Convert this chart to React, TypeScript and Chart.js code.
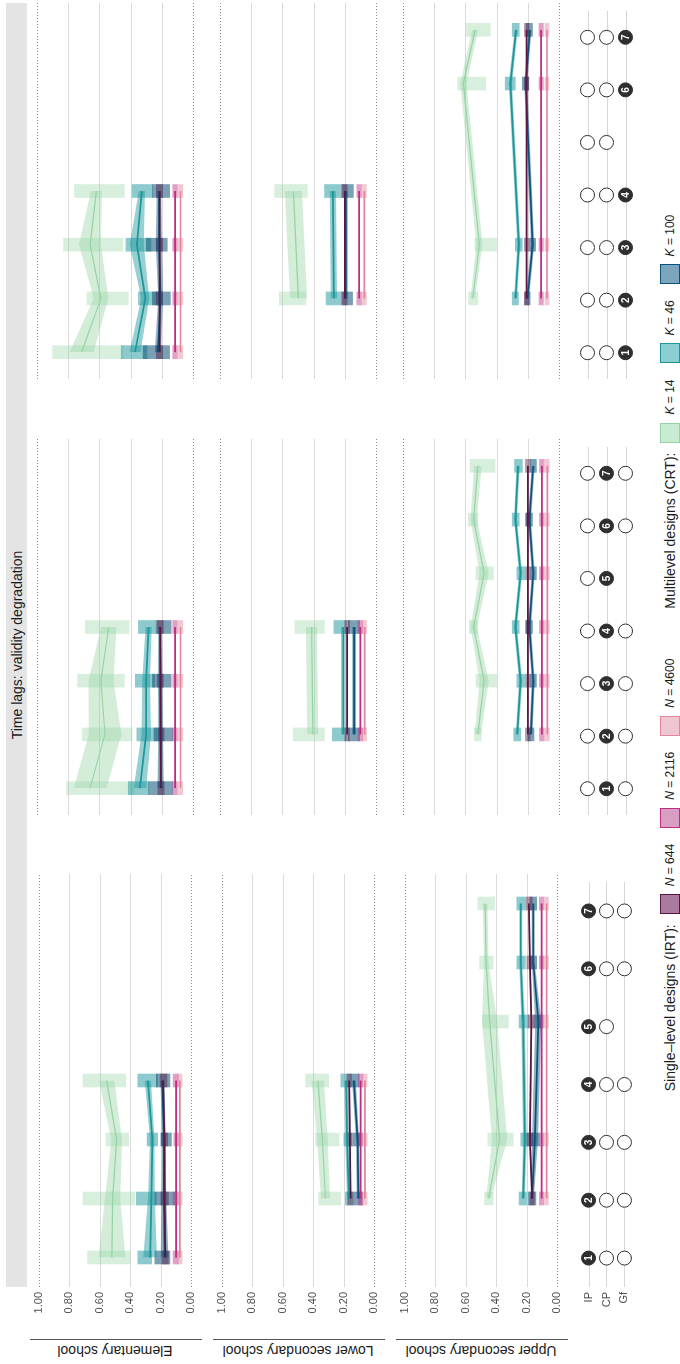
import React, { useEffect, useRef } from "react";
import { Chart, registerables } from "chart.js";
Chart.register(...registerables);

const FONT = '"Liberation Sans", Arial, Helvetica, sans-serif';

// ---------------- data ----------------
const SERIES = ["K = 14", "K = 46", "K = 100", "N = 644", "N = 2116", "N = 4600"];
const ROW_LABELS = ["Elementary school", "Lower secondary school", "Upper secondary school"];
const DESIGN_ROWS = ["IP", "CP", "Gf"];
const VALUE_TICKS = [0, 0.2, 0.4, 0.6, 0.8, 1];
const DESIGN_TIMES_IP = [1, 2, 3, 4, 5, 6, 7];
const DESIGN_TIMES_CP = [1, 2, 3, 4, 5, 6, 7];
const DESIGN_TIMES_GF = [1, 2, 3, 4, 6, 7];

// order of series in every matrix: K14, K46, K100, N644, N2116, N4600
// Elementary school, IP
const E_IP_T = [1, 2, 3, 4];
const E_IP_MEAN = [
  [0.52, 0.515, 0.49, 0.555],
  [0.27, 0.262, 0.256, 0.285],
  [0.175, 0.18, 0.18, 0.19],
  [0.17, 0.175, 0.176, 0.185],
  [0.1, 0.1, 0.1, 0.1],
  [0.075, 0.075, 0.075, 0.075],
];
const E_IP_BAND = [
  [0.088, 0.05, 0.035, 0.05],
  [0.045, 0.022, 0.015, 0.02],
  [0.025, 0.015, 0.012, 0.012],
  [0.006, 0.006, 0.006, 0.006],
  [0.005, 0.005, 0.005, 0.005],
  [0.004, 0.004, 0.004, 0.004],
];
const E_IP_LO = [
  [0.4, 0.37, 0.41, 0.43],
  [0.26, 0.23, 0.22, 0.22],
  [0.14, 0.11, 0.13, 0.14],
  [0.15, 0.15, 0.155, 0.16],
  [0.085, 0.085, 0.085, 0.085],
  [0.06, 0.06, 0.06, 0.06],
];
const E_IP_HI = [
  [0.68, 0.71, 0.56, 0.71],
  [0.35, 0.36, 0.29, 0.35],
  [0.24, 0.24, 0.2, 0.23],
  [0.19, 0.2, 0.195, 0.205],
  [0.12, 0.12, 0.115, 0.12],
  [0.09, 0.09, 0.088, 0.09],
];

// Elementary school, CP
const E_CP_T = [1, 2, 3, 4];
const E_CP_MEAN = [
  [0.66, 0.564, 0.59, 0.54],
  [0.34, 0.3, 0.3, 0.285],
  [0.207, 0.207, 0.21, 0.21],
  [0.205, 0.207, 0.208, 0.21],
  [0.115, 0.115, 0.115, 0.115],
  [0.08, 0.08, 0.08, 0.08],
];
const E_CP_BAND = [
  [0.105, 0.105, 0.08, 0.05],
  [0.04, 0.03, 0.025, 0.02],
  [0.02, 0.015, 0.015, 0.012],
  [0.006, 0.006, 0.006, 0.006],
  [0.005, 0.005, 0.005, 0.005],
  [0.004, 0.004, 0.004, 0.004],
];
const E_CP_LO = [
  [0.38, 0.39, 0.44, 0.41],
  [0.285, 0.23, 0.245, 0.245],
  [0.13, 0.13, 0.14, 0.14],
  [0.185, 0.185, 0.19, 0.19],
  [0.1, 0.1, 0.1, 0.1],
  [0.065, 0.065, 0.065, 0.065],
];
const E_CP_HI = [
  [0.81, 0.71, 0.74, 0.69],
  [0.415, 0.36, 0.37, 0.35],
  [0.285, 0.25, 0.26, 0.24],
  [0.225, 0.225, 0.23, 0.23],
  [0.13, 0.13, 0.13, 0.13],
  [0.095, 0.095, 0.095, 0.095],
];

// Elementary school, Gf
const E_GF_T = [1, 2, 3, 4];
const E_GF_MEAN = [
  [0.714, 0.59, 0.66, 0.62],
  [0.372, 0.306, 0.36, 0.328],
  [0.225, 0.207, 0.218, 0.218],
  [0.214, 0.214, 0.214, 0.214],
  [0.115, 0.115, 0.115, 0.115],
  [0.08, 0.08, 0.08, 0.08],
];
const E_GF_BAND = [
  [0.077, 0.046, 0.07, 0.035],
  [0.035, 0.025, 0.045, 0.02],
  [0.02, 0.015, 0.02, 0.015],
  [0.006, 0.006, 0.006, 0.006],
  [0.005, 0.005, 0.005, 0.005],
  [0.004, 0.004, 0.004, 0.004],
];
const E_GF_LO = [
  [0.45, 0.415, 0.45, 0.44],
  [0.295, 0.22, 0.27, 0.26],
  [0.15, 0.145, 0.165, 0.15],
  [0.195, 0.195, 0.195, 0.195],
  [0.1, 0.1, 0.1, 0.1],
  [0.065, 0.065, 0.065, 0.065],
];
const E_GF_HI = [
  [0.9, 0.68, 0.83, 0.76],
  [0.46, 0.35, 0.43, 0.39],
  [0.32, 0.26, 0.3, 0.26],
  [0.235, 0.235, 0.235, 0.235],
  [0.13, 0.13, 0.13, 0.13],
  [0.095, 0.095, 0.095, 0.095],
];

// Lower secondary school, IP
const L_IP_T = [2, 3, 4];
const L_IP_MEAN = [
  [0.32, 0.34, 0.37],
  [0.167, 0.178, 0.185],
  [0.105, 0.11, 0.134],
  [0.156, 0.16, 0.165],
  [0.09, 0.09, 0.09],
  [0.062, 0.062, 0.062],
];
const L_IP_BAND = [
  [0.03, 0.035, 0.04],
  [0.012, 0.012, 0.012],
  [0.01, 0.01, 0.012],
  [0.005, 0.005, 0.005],
  [0.004, 0.004, 0.004],
  [0.004, 0.004, 0.004],
];
const L_IP_LO = [
  [0.22, 0.23, 0.3],
  [0.135, 0.145, 0.155],
  [0.08, 0.09, 0.1],
  [0.14, 0.145, 0.15],
  [0.075, 0.075, 0.075],
  [0.048, 0.048, 0.048],
];
const L_IP_HI = [
  [0.365, 0.385, 0.45],
  [0.19, 0.2, 0.22],
  [0.135, 0.14, 0.155],
  [0.175, 0.178, 0.18],
  [0.105, 0.105, 0.105],
  [0.078, 0.078, 0.078],
];

// Lower secondary school, CP
const L_CP_T = [2, 4];
const L_CP_MEAN = [
  [0.405, 0.413],
  [0.21, 0.21],
  [0.14, 0.14],
  [0.185, 0.185],
  [0.1, 0.1],
  [0.073, 0.073],
];
const L_CP_BAND = [
  [0.035, 0.035],
  [0.015, 0.015],
  [0.012, 0.012],
  [0.005, 0.005],
  [0.004, 0.004],
  [0.004, 0.004],
];
const L_CP_LO = [
  [0.33, 0.33],
  [0.19, 0.19],
  [0.105, 0.105],
  [0.17, 0.17],
  [0.085, 0.085],
  [0.06, 0.06],
];
const L_CP_HI = [
  [0.53, 0.52],
  [0.28, 0.27],
  [0.178, 0.178],
  [0.2, 0.2],
  [0.115, 0.115],
  [0.088, 0.088],
];

// Lower secondary school, Gf
const L_GF_T = [2, 4];
const L_GF_MEAN = [
  [0.497, 0.53],
  [0.27, 0.277],
  [0.193, 0.193],
  [0.2, 0.2],
  [0.108, 0.108],
  [0.075, 0.075],
];
const L_GF_BAND = [
  [0.055, 0.055],
  [0.02, 0.02],
  [0.012, 0.012],
  [0.005, 0.005],
  [0.004, 0.004],
  [0.004, 0.004],
];
const L_GF_LO = [
  [0.45, 0.44],
  [0.23, 0.23],
  [0.15, 0.145],
  [0.185, 0.185],
  [0.093, 0.093],
  [0.062, 0.062],
];
const L_GF_HI = [
  [0.62, 0.65],
  [0.32, 0.33],
  [0.225, 0.225],
  [0.215, 0.215],
  [0.123, 0.123],
  [0.09, 0.09],
];

// Upper secondary school, IP
const U_IP_T = [2, 3, 5, 6, 7];
const U_IP_MEAN = [
  [0.45, 0.378, 0.444, 0.466, 0.473],
  [0.224, 0.213, 0.224, 0.24, 0.24],
  [0.165, 0.147, 0.125, 0.158, 0.158],
  [0.165, 0.18, 0.17, 0.18, 0.187],
  [0.103, 0.103, 0.103, 0.103, 0.103],
  [0.07, 0.07, 0.07, 0.07, 0.07],
];
const U_IP_BAND = [
  [0.015, 0.05, 0.05, 0.015, 0.015],
  [0.01, 0.012, 0.012, 0.01, 0.01],
  [0.01, 0.02, 0.02, 0.01, 0.01],
  [0.005, 0.005, 0.005, 0.005, 0.005],
  [0.004, 0.004, 0.004, 0.004, 0.004],
  [0.004, 0.004, 0.004, 0.004, 0.004],
];
const U_IP_LO = [
  [0.42, 0.29, 0.32, 0.42, 0.41],
  [0.2, 0.18, 0.19, 0.21, 0.21],
  [0.14, 0.12, 0.1, 0.135, 0.135],
  [0.15, 0.16, 0.15, 0.16, 0.165],
  [0.09, 0.09, 0.09, 0.09, 0.09],
  [0.058, 0.058, 0.058, 0.058, 0.058],
];
const U_IP_HI = [
  [0.476, 0.455, 0.49, 0.51, 0.52],
  [0.25, 0.24, 0.25, 0.265, 0.265],
  [0.19, 0.175, 0.155, 0.18, 0.18],
  [0.18, 0.2, 0.19, 0.2, 0.205],
  [0.118, 0.118, 0.118, 0.118, 0.118],
  [0.085, 0.085, 0.085, 0.085, 0.085],
];

// Upper secondary school, CP
const U_CP_T = [2, 3, 4, 5, 6, 7];
const U_CP_MEAN = [
  [0.52, 0.48, 0.547, 0.48, 0.547, 0.52],
  [0.268, 0.246, 0.279, 0.246, 0.279, 0.262],
  [0.18, 0.165, 0.19, 0.165, 0.19, 0.165],
  [0.2, 0.2, 0.2, 0.2, 0.2, 0.2],
  [0.11, 0.11, 0.11, 0.11, 0.11, 0.11],
  [0.075, 0.075, 0.075, 0.075, 0.075, 0.075],
];
const U_CP_BAND = [
  [0.02, 0.03, 0.02, 0.03, 0.02, 0.025],
  [0.01, 0.01, 0.01, 0.01, 0.01, 0.01],
  [0.01, 0.01, 0.01, 0.01, 0.01, 0.01],
  [0.005, 0.005, 0.005, 0.005, 0.005, 0.005],
  [0.004, 0.004, 0.004, 0.004, 0.004, 0.004],
  [0.004, 0.004, 0.004, 0.004, 0.004, 0.004],
];
const U_CP_LO = [
  [0.499, 0.4, 0.52, 0.42, 0.52, 0.41],
  [0.245, 0.22, 0.255, 0.22, 0.255, 0.235],
  [0.16, 0.145, 0.17, 0.145, 0.17, 0.145],
  [0.185, 0.185, 0.185, 0.185, 0.185, 0.185],
  [0.095, 0.095, 0.095, 0.095, 0.095, 0.095],
  [0.062, 0.062, 0.062, 0.062, 0.062, 0.062],
];
const U_CP_HI = [
  [0.543, 0.532, 0.576, 0.532, 0.582, 0.57],
  [0.29, 0.27, 0.3, 0.27, 0.3, 0.285],
  [0.2, 0.185, 0.21, 0.185, 0.21, 0.185],
  [0.215, 0.215, 0.215, 0.215, 0.215, 0.215],
  [0.125, 0.125, 0.125, 0.125, 0.125, 0.125],
  [0.09, 0.09, 0.09, 0.09, 0.09, 0.09],
];

// Upper secondary school, Gf
const U_GF_T = [2, 3, 6, 7];
const U_GF_MEAN = [
  [0.553, 0.51, 0.613, 0.538],
  [0.279, 0.257, 0.312, 0.275],
  [0.202, 0.169, 0.213, 0.187],
  [0.208, 0.208, 0.208, 0.208],
  [0.114, 0.114, 0.114, 0.114],
  [0.077, 0.077, 0.077, 0.077],
];
const U_GF_BAND = [
  [0.015, 0.02, 0.02, 0.02],
  [0.01, 0.01, 0.01, 0.01],
  [0.01, 0.01, 0.01, 0.01],
  [0.005, 0.005, 0.005, 0.005],
  [0.004, 0.004, 0.004, 0.004],
  [0.004, 0.004, 0.004, 0.004],
];
const U_GF_LO = [
  [0.52, 0.4, 0.47, 0.44],
  [0.26, 0.235, 0.28, 0.255],
  [0.185, 0.15, 0.195, 0.17],
  [0.193, 0.193, 0.193, 0.193],
  [0.1, 0.1, 0.1, 0.1],
  [0.064, 0.064, 0.064, 0.064],
];
const U_GF_HI = [
  [0.58, 0.54, 0.65, 0.595],
  [0.3, 0.28, 0.345, 0.3],
  [0.22, 0.19, 0.235, 0.21],
  [0.222, 0.222, 0.222, 0.222],
  [0.128, 0.128, 0.128, 0.128],
  [0.09, 0.09, 0.09, 0.09],
];

// ---------------- styles / layout ----------------
const LINE_COLORS = ["#95d4a4", "#1b969b", "#0c5278", "#5a1642", "#c02d80", "#e0879e"];
const BAND_COLORS = [
  "rgba(149,212,164,0.42)",
  "rgba(27,150,155,0.45)",
  "rgba(12,82,120,0.45)",
  "rgba(90,22,66,0.35)",
  "rgba(192,45,128,0.35)",
  "rgba(224,135,158,0.35)",
];
const CLOUD_COLORS = [
  "rgba(149,212,164,0.36)",
  "rgba(27,150,155,0.5)",
  "rgba(12,82,120,0.55)",
  "rgba(90,22,66,0.45)",
  "rgba(192,45,128,0.45)",
  "rgba(224,135,158,0.45)",
];
const LEGEND_FILL = ["#c8ecd1", "#8dcfd0", "#7ba4bd", "#a97c9f", "#d99fc2", "#efc7d1"];
const LINE_WIDTHS = [1.2, 1.7, 1.7, 1.7, 1.7, 1.7];

const ROW_TOPS = [37, 220, 403];
const ROW_H = 156;
const COL_LEFTS = [77, 512, 948];
const COL_W = 413;
const AXIS_W = 37;
const PAD = 10;
const DESIGN_TOP = 578;
const DESIGN_H = 57;

const PANELS = [
  [
    { t: E_IP_T, mean: E_IP_MEAN, band: E_IP_BAND, lo: E_IP_LO, hi: E_IP_HI },
    { t: E_CP_T, mean: E_CP_MEAN, band: E_CP_BAND, lo: E_CP_LO, hi: E_CP_HI },
    { t: E_GF_T, mean: E_GF_MEAN, band: E_GF_BAND, lo: E_GF_LO, hi: E_GF_HI },
  ],
  [
    { t: L_IP_T, mean: L_IP_MEAN, band: L_IP_BAND, lo: L_IP_LO, hi: L_IP_HI },
    { t: L_CP_T, mean: L_CP_MEAN, band: L_CP_BAND, lo: L_CP_LO, hi: L_CP_HI },
    { t: L_GF_T, mean: L_GF_MEAN, band: L_GF_BAND, lo: L_GF_LO, hi: L_GF_HI },
  ],
  [
    { t: U_IP_T, mean: U_IP_MEAN, band: U_IP_BAND, lo: U_IP_LO, hi: U_IP_HI },
    { t: U_CP_T, mean: U_CP_MEAN, band: U_CP_BAND, lo: U_CP_LO, hi: U_CP_HI },
    { t: U_GF_T, mean: U_GF_MEAN, band: U_GF_BAND, lo: U_GF_LO, hi: U_GF_HI },
  ],
];
const DESIGN_TIMES = [DESIGN_TIMES_IP, DESIGN_TIMES_CP, DESIGN_TIMES_GF];

// ---------------- plugins ----------------
const valueGridPlugin = {
  id: "valueGrid",
  beforeDatasetsDraw(chart: any) {
    const { ctx, chartArea, scales } = chart;
    const y = scales.y;
    ctx.save();
    VALUE_TICKS.forEach((v) => {
      const py = Math.round(y.getPixelForValue(v)) + 0.5;
      ctx.beginPath();
      if (v === 0 || v === 1) {
        ctx.strokeStyle = "#8a8a8a";
        ctx.setLineDash([1, 2]);
        ctx.lineWidth = 1;
      } else {
        ctx.strokeStyle = "#dadada";
        ctx.setLineDash([]);
        ctx.lineWidth = 1.2;
      }
      ctx.moveTo(chartArea.left, py);
      ctx.lineTo(chartArea.right, py);
      ctx.stroke();
    });
    ctx.restore();
  },
};

const designGridPlugin = {
  id: "designGrid",
  beforeDatasetsDraw(chart: any) {
    const { ctx, chartArea, scales } = chart;
    ctx.save();
    ctx.strokeStyle = "#d6d6d6";
    ctx.lineWidth = 1.2;
    DESIGN_ROWS.forEach((_, i) => {
      const py = Math.round(scales.y.getPixelForValue(i + 1)) + 0.5;
      ctx.beginPath();
      ctx.moveTo(chartArea.left, py);
      ctx.lineTo(chartArea.right, py);
      ctx.stroke();
    });
    ctx.restore();
  },
};

function makeNumberPlugin(filledIndex: number) {
  return {
    id: "designNumbers",
    afterDatasetsDraw(chart: any) {
      const { ctx } = chart;
      const meta = chart.getDatasetMeta(filledIndex);
      const times = DESIGN_TIMES[filledIndex];
      ctx.save();
      ctx.fillStyle = "#ffffff";
      ctx.font = `bold 10px ${FONT}`;
      ctx.textAlign = "center";
      ctx.textBaseline = "middle";
      meta.data.forEach((el: any, i: number) => {
        ctx.fillText(String(times[i]), el.x, el.y + 0.5);
      });
      ctx.restore();
    },
  };
}

// ---------------- chart builders ----------------
function yAxisCommon(show: boolean) {
  return {
    display: show,
    grid: { display: false, drawTicks: false },
    border: { display: false },
    afterFit: (s: any) => {
      s.width = AXIS_W;
    },
  };
}

function buildValuePanel(canvas: HTMLCanvasElement, r: number, c: number) {
  const p = PANELS[r][c];
  const datasets: any[] = [];
  p.mean.forEach((_m: number[], s: number) => {
    datasets.push({
      type: "bar",
      label: SERIES[s] + " cloud",
      data: p.t.map((x: number, i: number) => ({ x, y: [p.lo[s][i], p.hi[s][i]] })),
      backgroundColor: CLOUD_COLORS[s],
      borderWidth: 0,
      barThickness: 13,
      grouped: false,
      order: 40 - s,
    });
  });
  p.mean.forEach((m: number[], s: number) => {
    datasets.push({
      type: "line",
      label: SERIES[s] + " lower",
      data: p.t.map((x: number, i: number) => ({ x, y: m[i] - p.band[s][i] })),
      borderWidth: 0,
      borderColor: "rgba(0,0,0,0)",
      pointRadius: 0,
      fill: false,
      order: 25,
    });
    datasets.push({
      type: "line",
      label: SERIES[s] + " upper",
      data: p.t.map((x: number, i: number) => ({ x, y: m[i] + p.band[s][i] })),
      borderWidth: 0,
      borderColor: "rgba(0,0,0,0)",
      pointRadius: 0,
      fill: "-1",
      backgroundColor: BAND_COLORS[s],
      order: 25,
    });
  });
  p.mean.forEach((m: number[], s: number) => {
    datasets.push({
      type: "line",
      label: SERIES[s],
      data: p.t.map((x: number, i: number) => ({ x, y: m[i] })),
      borderColor: LINE_COLORS[s],
      borderWidth: LINE_WIDTHS[s],
      pointRadius: 0,
      fill: false,
      tension: 0,
      order: 15 - s,
    });
  });

  return new Chart(canvas, {
    type: "line",
    data: { datasets },
    plugins: [valueGridPlugin],
    options: {
      responsive: false,
      animation: false,
      events: [],
      layout: { padding: { top: PAD, bottom: PAD, left: 0, right: 0 } },
      plugins: { legend: { display: false }, tooltip: { enabled: false } },
      scales: {
        x: {
          type: "linear",
          min: 0.5,
          max: 7.5,
          offset: false,
          display: false,
          grid: { display: false, offset: false },
        },
        y: {
          type: "linear",
          min: 0,
          max: 1,
          ...yAxisCommon(c === 0),
          afterBuildTicks: (s: any) => {
            s.ticks = VALUE_TICKS.map((value) => ({ value }));
          },
          ticks: {
            padding: 5,
            color: "#4d4d4d",
            font: { family: FONT, size: 11 },
            callback: (v: any) => Number(v).toFixed(2),
          },
        },
      },
    } as any,
  });
}

function buildDesignPanel(canvas: HTMLCanvasElement, c: number) {
  const datasets = DESIGN_ROWS.map((name, r) => ({
    type: "scatter",
    label: name,
    data: DESIGN_TIMES[r].map((t) => ({ x: t, y: r + 1 })),
    pointRadius: 7,
    pointBackgroundColor: r === c ? "#2f2f2f" : "#ffffff",
    pointBorderColor: "#2f2f2f",
    pointBorderWidth: 1,
    showLine: false,
  }));
  return new Chart(canvas, {
    type: "scatter",
    data: { datasets } as any,
    plugins: [designGridPlugin, makeNumberPlugin(c)],
    options: {
      responsive: false,
      animation: false,
      events: [],
      layout: { padding: { top: PAD, bottom: PAD, left: 0, right: 0 } },
      plugins: { legend: { display: false }, tooltip: { enabled: false } },
      scales: {
        x: { type: "linear", min: 0.5, max: 7.5, display: false, grid: { display: false } },
        y: {
          type: "linear",
          min: 0.5,
          max: 3.5,
          reverse: true,
          ...yAxisCommon(c === 0),
          afterBuildTicks: (s: any) => {
            s.ticks = DESIGN_ROWS.map((_, i) => ({ value: i + 1 }));
          },
          ticks: {
            padding: 5,
            color: "#4d4d4d",
            font: { family: FONT, size: 11 },
            callback: (v: any) => DESIGN_ROWS[Math.round(Number(v)) - 1],
          },
        },
      },
    } as any,
  });
}

// ---------------- components ----------------
function ChartBox(props: {
  left: number;
  top: number;
  width: number;
  height: number;
  build: (c: HTMLCanvasElement) => Chart;
}) {
  const ref = useRef<HTMLCanvasElement>(null);
  useEffect(() => {
    const chart = props.build(ref.current as HTMLCanvasElement);
    return () => chart.destroy();
  }, []);
  return (
    <div style={{ position: "absolute", left: props.left, top: props.top, width: props.width, height: props.height }}>
      <canvas ref={ref} width={props.width} height={props.height} style={{ display: "block", width: props.width, height: props.height }} />
    </div>
  );
}

function LegendItem(props: { idx: number; letter: string; rest: string }) {
  return (
    <span style={{ display: "inline-flex", alignItems: "center", marginRight: 16 }}>
      <span
        style={{
          display: "inline-block",
          width: 20,
          height: 20,
          boxSizing: "border-box",
          background: LEGEND_FILL[props.idx],
          border: `1px solid ${LINE_COLORS[props.idx]}`,
          marginRight: 8,
        }}
      />
      <span style={{ fontSize: 12, whiteSpace: "nowrap" }}>
        <i>{props.letter}</i>
        {props.rest}
      </span>
    </span>
  );
}

export default function App() {
  const panels: any[] = [];
  for (let r = 0; r < 3; r++) {
    for (let c = 0; c < 3; c++) {
      const extra = c === 0 ? AXIS_W : 0;
      panels.push(
        <ChartBox
          key={`p${r}${c}`}
          left={COL_LEFTS[c] - extra}
          top={ROW_TOPS[r] - PAD}
          width={COL_W + extra}
          height={ROW_H + 2 * PAD}
          build={(cv) => buildValuePanel(cv, r, c)}
        />
      );
    }
  }
  for (let c = 0; c < 3; c++) {
    const extra = c === 0 ? AXIS_W : 0;
    panels.push(
      <ChartBox
        key={`d${c}`}
        left={COL_LEFTS[c] - extra}
        top={DESIGN_TOP - PAD}
        width={COL_W + extra}
        height={DESIGN_H + 2 * PAD}
        build={(cv) => buildDesignPanel(cv, c)}
      />
    );
  }

  return (
    <div style={{ position: "absolute", left: 0, top: 0, width: 680, height: 1364, overflow: "hidden", background: "#ffffff" }}>
      <div
        style={{
          position: "absolute",
          left: 0,
          top: 0,
          width: 1364,
          height: 680,
          transformOrigin: "0 0",
          transform: "translateY(1364px) rotate(-90deg)",
          fontFamily: FONT,
          color: "#1a1a1a",
          background: "#ffffff",
        }}
      >
        <div
          style={{
            position: "absolute",
            left: COL_LEFTS[0],
            top: 6,
            width: COL_LEFTS[2] + COL_W - COL_LEFTS[0],
            height: 21,
            background: "#e4e4e4",
            display: "flex",
            alignItems: "center",
            justifyContent: "center",
            fontSize: 14,
            color: "#1a1a1a",
          }}
        >
          Time lags: validity degradation
        </div>

        {ROW_LABELS.map((lab, r) => (
          <React.Fragment key={lab}>
            <div style={{ position: "absolute", left: 24, top: ROW_TOPS[r] - 7, width: 1, height: ROW_H + 16, background: "#555" }} />
            <div
              style={{
                position: "absolute",
                left: 13,
                top: ROW_TOPS[r] + ROW_H / 2,
                transform: "translate(-50%, -50%) rotate(-90deg)",
                whiteSpace: "nowrap",
                fontSize: 14,
                lineHeight: "16px",
              }}
            >
              {lab}
            </div>
          </React.Fragment>
        ))}

        {panels}

        <div
          style={{
            position: "absolute",
            left: COL_LEFTS[0],
            width: COL_LEFTS[2] + COL_W - COL_LEFTS[0],
            top: 660,
            height: 20,
            display: "flex",
            alignItems: "center",
            justifyContent: "center",
          }}
        >
          <span style={{ fontSize: 14, marginRight: 10, whiteSpace: "nowrap" }}>Single–level designs (IRT):</span>
          <LegendItem idx={3} letter="N" rest=" = 644" />
          <LegendItem idx={4} letter="N" rest=" = 2116" />
          <LegendItem idx={5} letter="N" rest=" = 4600" />
          <span style={{ width: 34, display: "inline-block" }} />
          <span style={{ fontSize: 14, marginRight: 10, whiteSpace: "nowrap" }}>Multilevel designs (CRT):</span>
          <LegendItem idx={0} letter="K" rest=" = 14" />
          <LegendItem idx={1} letter="K" rest=" = 46" />
          <LegendItem idx={2} letter="K" rest=" = 100" />
        </div>
      </div>
    </div>
  );
}
